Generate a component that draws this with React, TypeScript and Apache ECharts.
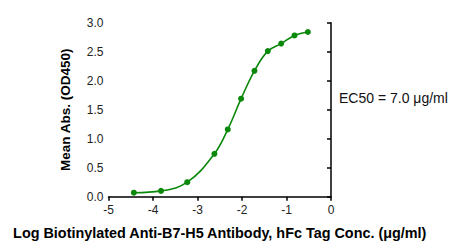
import React, { useEffect, useRef } from "react";
import * as echarts from "echarts";

const logConc = [-4.43, -3.82, -3.23, -2.62, -2.32, -2.02, -1.72, -1.42, -1.12, -0.82, -0.52];
const meanAbs = [0.069, 0.1, 0.25, 0.74, 1.16, 1.69, 2.17, 2.51, 2.64, 2.78, 2.84];
const xTitle = "Log Biotinylated Anti-B7-H5 Antibody, hFc Tag Conc. (μg/ml)";
const yTitle = "Mean Abs. (OD450)";
const ec50Label = "EC50 = 7.0 μg/ml";

export default function App() {
  const ref = useRef<HTMLDivElement>(null);
  useEffect(() => {
    if (!ref.current) return;
    const chart = echarts.init(ref.current, undefined, { renderer: "svg" });
    const pts = logConc.map((x, i) => [x, meanAbs[i]]);
    const green = "#0a880a";
    const font = "Liberation Sans, Arial, sans-serif";
    chart.setOption({
      animation: false,
      backgroundColor: "#ffffff",
      grid: { left: 108.5, right: 135, top: 22.7, bottom: 55.3, containLabel: false },
      xAxis: {
        type: "value",
        min: -5,
        max: 0,
        interval: 1,
        splitLine: { show: false },
        axisLine: { show: true, onZero: false, lineStyle: { color: "#000", width: 1.5 } },
        axisTick: { show: true, length: 4, lineStyle: { color: "#000", width: 1.5 } },
        axisLabel: { color: "#222", fontSize: 12, fontFamily: font, margin: 7 },
        name: xTitle,
        nameLocation: "middle",
        nameGap: 29,
        nameTextStyle: { color: "#000", fontSize: 14.4, fontWeight: "bold", fontFamily: font },
      },
      yAxis: {
        type: "value",
        min: 0,
        max: 3,
        interval: 0.5,
        splitLine: { show: false },
        axisLine: { show: true, lineStyle: { color: "#000", width: 1.5 } },
        axisTick: { show: true, length: 4, lineStyle: { color: "#000", width: 1.5 } },
        axisLabel: {
          color: "#222",
          fontSize: 12,
          fontFamily: font,
          margin: 5,
          formatter: (v: number) => v.toFixed(1),
        },
        name: yTitle,
        nameLocation: "middle",
        nameGap: 36,
        nameTextStyle: { color: "#000", fontSize: 13.5, fontWeight: "bold", fontFamily: font },
      },
      series: [
        {
          type: "line",
          data: pts,
          smooth: 0.4,
          symbol: "circle",
          symbolSize: 6,
          itemStyle: { color: green },
          lineStyle: { color: green, width: 1.6 },
        },
      ],
      graphic: [
        {
          type: "text",
          left: 339,
          top: 91,
          style: { text: ec50Label, fill: "#111", fontSize: 14, fontFamily: font },
        },
      ],
    });
    return () => chart.dispose();
  }, []);
  return (
    <div
      ref={ref}
      style={{ position: "fixed", left: 0, top: 0, width: 466, height: 252, background: "#fff" }}
    />
  );
}
